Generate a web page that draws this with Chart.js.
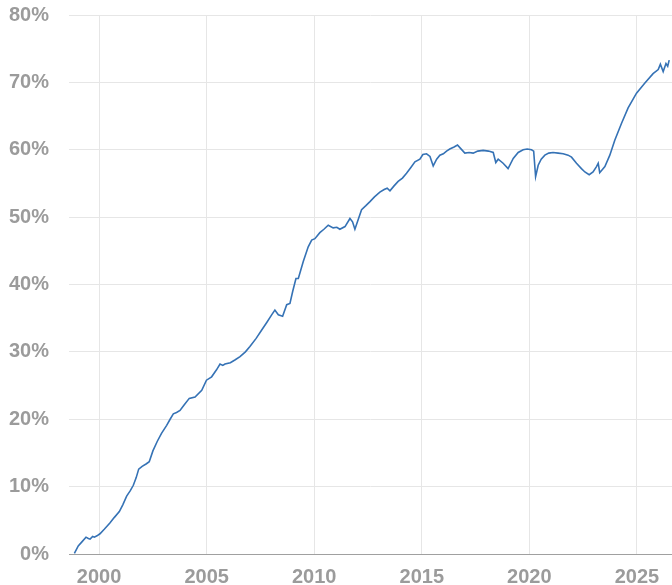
<!DOCTYPE html>
<html>
<head>
<meta charset="utf-8">
<script src="https://cdn.jsdelivr.net/npm/chart.js@4/dist/chart.umd.min.js"></script>
<style>
  html, body { margin: 0; padding: 0; background: #fff; }
  #wrap { width: 672px; height: 585px; position: relative; }
</style>
</head>
<body>
<div id="wrap"><canvas id="shareChart"></canvas></div>
<script>
// decimal years and the share (%) at each date
const years = [
  1998.85, 1999.03, 1999.20, 1999.39, 1999.50, 1999.58, 1999.70, 1999.78, 1999.90, 2000.04,
  2000.25, 2000.50, 2000.70, 2000.94, 2001.10, 2001.28, 2001.45, 2001.59, 2001.72, 2001.84,
  2002.00, 2002.20, 2002.33, 2002.50, 2002.70, 2002.90, 2003.14, 2003.30, 2003.45, 2003.60,
  2003.76, 2003.95, 2004.19, 2004.46, 2004.77, 2004.99, 2005.23, 2005.45, 2005.62, 2005.75,
  2005.85, 2006.10, 2006.31, 2006.55, 2006.80, 2007.01, 2007.30, 2007.55, 2007.80, 2008.02,
  2008.17, 2008.33, 2008.53, 2008.72, 2008.87, 2009.00, 2009.15, 2009.26, 2009.49, 2009.72,
  2009.88, 2010.03, 2010.26, 2010.45, 2010.65, 2010.88, 2011.05, 2011.19, 2011.43, 2011.66,
  2011.78, 2011.89, 2012.04, 2012.20, 2012.40, 2012.59, 2012.80, 2013.05, 2013.25, 2013.39,
  2013.52, 2013.70, 2013.90, 2014.10, 2014.29, 2014.50, 2014.68, 2014.91, 2015.05, 2015.22,
  2015.38, 2015.53, 2015.69, 2015.84, 2016.00, 2016.15, 2016.30, 2016.50, 2016.66, 2016.80,
  2017.00, 2017.20, 2017.39, 2017.60, 2017.85, 2018.10, 2018.32, 2018.44, 2018.55, 2018.78,
  2019.01, 2019.25, 2019.48, 2019.71, 2019.90, 2020.10, 2020.20, 2020.29, 2020.41, 2020.55,
  2020.72, 2020.90, 2021.10, 2021.34, 2021.57, 2021.80, 2021.96, 2022.19, 2022.42, 2022.58,
  2022.78, 2022.96, 2023.12, 2023.20, 2023.27, 2023.51, 2023.74, 2023.97, 2024.28, 2024.59,
  2024.98, 2025.37, 2025.75, 2025.99, 2026.09, 2026.22, 2026.35, 2026.43, 2026.50
];
const shares = [
  0.1, 1.2, 1.8, 2.5, 2.3, 2.2, 2.6, 2.5, 2.7, 3.0,
  3.7, 4.6, 5.4, 6.3, 7.3, 8.6, 9.4, 10.2, 11.3, 12.6,
  13.0, 13.4, 13.7, 15.3, 16.7, 17.9, 19.1, 20.0, 20.8, 21.0,
  21.3, 22.1, 23.1, 23.3, 24.3, 25.8, 26.3, 27.3, 28.2, 28.0,
  28.2, 28.4, 28.8, 29.3, 30.0, 30.8, 32.0, 33.2, 34.4, 35.5,
  36.2, 35.5, 35.3, 37.0, 37.2, 39.0, 40.9, 40.9, 43.4, 45.6,
  46.6, 46.8, 47.7, 48.2, 48.8, 48.4, 48.5, 48.2, 48.6, 49.8,
  49.3, 48.2, 49.6, 51.1, 51.7, 52.3, 53.0, 53.7, 54.1, 54.3,
  53.9, 54.6, 55.3, 55.8, 56.5, 57.4, 58.2, 58.6, 59.3, 59.4,
  59.0, 57.6, 58.6, 59.2, 59.4, 59.8, 60.1, 60.4, 60.7, 60.2,
  59.5, 59.6, 59.5, 59.8, 59.9, 59.8, 59.6, 58.1, 58.6, 58.0,
  57.2, 58.7, 59.6, 60.0, 60.1, 60.0, 59.8, 56.0, 57.7, 58.6,
  59.2, 59.5, 59.6, 59.5, 59.4, 59.2, 58.9, 58.0, 57.2, 56.7,
  56.3, 56.7, 57.5, 58.0, 56.6, 57.5, 59.2, 61.4, 63.9, 66.2,
  68.4, 69.9, 71.3, 71.9, 72.7, 71.6, 72.8, 72.4, 73.3
];
const yearTicks = [2000, 2005, 2010, 2015, 2020, 2025];
const pctTicks = [0, 10, 20, 30, 40, 50, 60, 70, 80];

const labelFont = { family: 'Arial, "Liberation Sans", sans-serif', size: 20, weight: 'bold' };
const labelColor = '#9b9b9b';
const gridColor = '#e6e6e6';

new Chart(document.getElementById('shareChart'), {
  type: 'line',
  data: {
    datasets: [{
      data: years.map((x, i) => ({ x: x, y: shares[i] })),
      borderColor: '#3572b5',
      borderWidth: 1.6,
      pointRadius: 0,
      tension: 0,
      fill: false
    }]
  },
  options: {
    responsive: true,
    maintainAspectRatio: false,
    animation: false,
    layout: { padding: { left: 9, top: 15, right: 0, bottom: 0 } },
    plugins: { legend: { display: false }, tooltip: { enabled: false } },
    scales: {
      x: {
        type: 'linear',
        min: 1998.6,
        max: 2026.63,
        afterBuildTicks: axis => { axis.ticks = yearTicks.map(v => ({ value: v })); },
        afterFit: axis => { axis.height = 31; },
        grid: { color: gridColor, drawTicks: false },
        border: { color: '#a0a0a0', width: 1 },
        ticks: { font: labelFont, color: labelColor, padding: 11, callback: v => String(v) }
      },
      y: {
        min: 0,
        max: 80,
        afterBuildTicks: axis => { axis.ticks = pctTicks.map(v => ({ value: v })); },
        afterFit: axis => {
          // fixed width for the % labels, no extra room above/below
          axis.width = 60;
          axis.paddingTop = 0;
          axis.paddingBottom = 0;
        },
        grid: { color: gridColor, drawTicks: false },
        border: { display: false },
        ticks: { font: labelFont, color: labelColor, padding: 20, callback: v => v + '%' }
      }
    }
  }
});
</script>
</body>
</html>
